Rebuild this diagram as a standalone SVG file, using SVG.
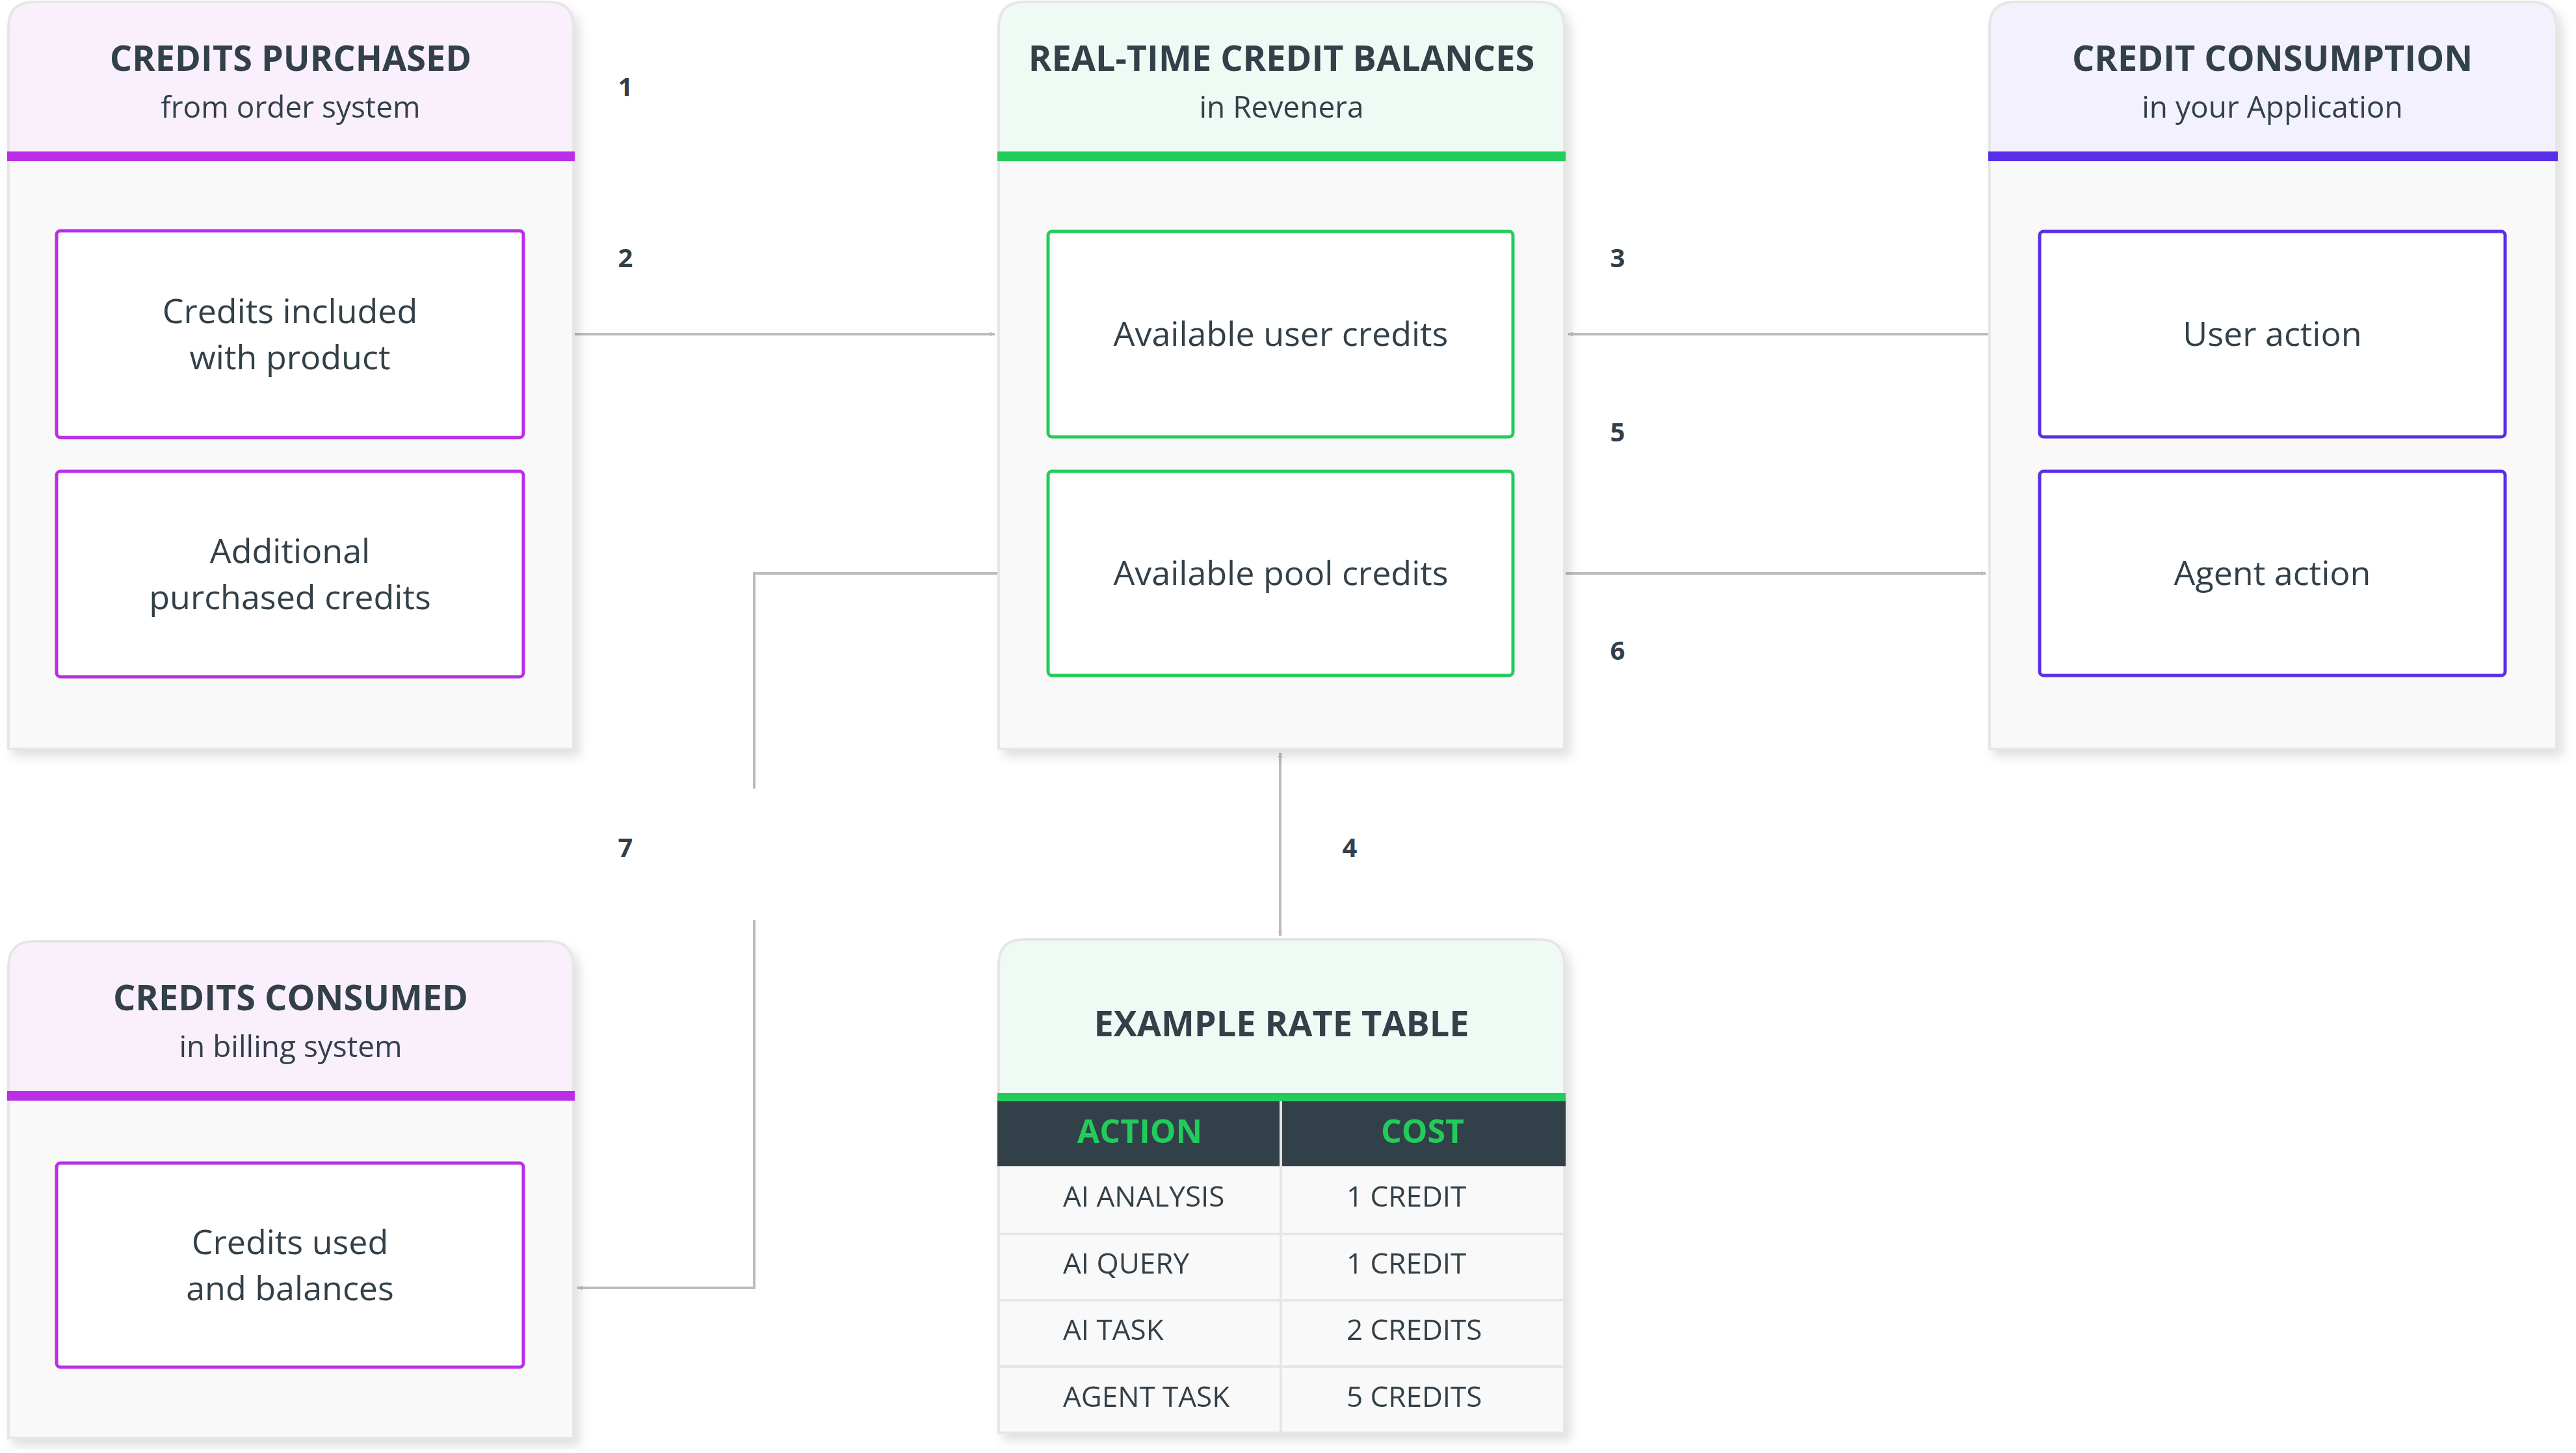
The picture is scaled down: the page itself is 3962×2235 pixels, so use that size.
<svg xmlns="http://www.w3.org/2000/svg" width="3962" height="2235" viewBox="0 0 3962 2235">
<defs>
<filter id="sh" x="-5%" y="-5%" width="115%" height="115%"><feDropShadow dx="8" dy="10" stdDeviation="8" flood-color="#000" flood-opacity="0.12"/></filter>
<marker id="ah" viewBox="0 0 10 10" refX="10" refY="5" markerWidth="7" markerHeight="7" markerUnits="userSpaceOnUse" orient="auto-start-reverse"><path d="M0,0 L10,5 L0,10 z" fill="#bcbcbc"/></marker>
</defs>
<style>
text{font-family:"Open Sans","Noto Sans",sans-serif;fill:#333f48;text-anchor:middle}
.t{font-size:54px;font-weight:700}
.s{font-size:46px}
.b{font-size:52px}
.n{font-size:40px;font-weight:700}
.r{font-size:44px}
.c{fill:none;stroke:#bcbcbc;stroke-width:4}
.body{fill:#f9f9f9;stroke:#e6e6e6;stroke-width:4}
.box{fill:#fff;stroke-width:5}
</style>
<g id="connectors">
<line class="c" x1="884" y1="514" x2="1530" y2="514" marker-end="url(#ah)" style="marker-end:url(#ah);stroke-width:4"/>
<line class="c" x1="3060" y1="514" x2="2412" y2="514" marker-end="url(#ah)"/>
<line class="c" x1="2408" y1="882" x2="3054" y2="882" marker-end="url(#ah)"/>
<polyline class="c" points="1536,882 1160,882 1160,1213"/>
<polyline class="c" points="1160,1415 1160,1981 888,1981" marker-end="url(#ah)"/>
<line class="c" x1="1969" y1="1158" x2="1969" y2="1440" marker-start="url(#ah)" marker-end="url(#ah)"/>
<text class="n" x="962" y="148">1</text>
<text class="n" x="962" y="411">2</text>
<text class="n" x="2488" y="411">3</text>
<text class="n" x="2488" y="679">5</text>
<text class="n" x="2488" y="1015">6</text>
<text class="n" x="962" y="1318">7</text>
<text class="n" x="2076" y="1318">4</text>
</g>
<g id="credits-purchased" filter="url(#sh)">
<path class="body" d="M13,240 H882 V1152 H13 Z"/>
<path d="M13,240 V42 Q13,3 52,3 H843 Q882,3 882,42 V240 Z" fill="#f9f0fc" stroke="#e6e6e6" stroke-width="4"/>
<rect x="11" y="233" width="873" height="15" fill="#b92ee6"/>
<text class="t" x="447" y="109">CREDITS PURCHASED</text>
<text class="s" x="447" y="181">from order system</text>
<rect class="box" x="87" y="355" width="718" height="318" rx="6" stroke="#b92ee6"/>
<text class="b" x="446" y="497">Credits included</text>
<text class="b" x="446" y="568">with product</text>
<rect class="box" x="87" y="725" width="718" height="316" rx="6" stroke="#b92ee6"/>
<text class="b" x="446" y="866">Additional</text>
<text class="b" x="446" y="937">purchased credits</text>
</g>
<g id="balances" filter="url(#sh)">
<path class="body" d="M1536,240 H2406 V1152 H1536 Z"/>
<path d="M1536,240 V42 Q1536,3 1575,3 H2367 Q2406,3 2406,42 V240 Z" fill="#f0faf4" stroke="#e6e6e6" stroke-width="4"/>
<rect x="1534" y="233" width="874" height="15" fill="#22cc5a"/>
<text class="t" x="1971" y="109">REAL-TIME CREDIT BALANCES</text>
<text class="s" x="1971" y="181">in Revenera</text>
<rect class="box" x="1612" y="356" width="715" height="316" rx="6" stroke="#22cc5a"/>
<text class="b" x="1970" y="532">Available user credits</text>
<rect class="box" x="1612" y="725" width="715" height="314" rx="6" stroke="#22cc5a"/>
<text class="b" x="1970" y="900">Available pool credits</text>
</g>
<g id="consumption" filter="url(#sh)">
<path class="body" d="M3060,240 H3932 V1152 H3060 Z"/>
<path d="M3060,240 V42 Q3060,3 3099,3 H3893 Q3932,3 3932,42 V240 Z" fill="#f3f1fd" stroke="#e6e6e6" stroke-width="4"/>
<rect x="3058" y="233" width="876" height="15" fill="#5a2ee6"/>
<text class="t" x="3495" y="109">CREDIT CONSUMPTION</text>
<text class="s" x="3495" y="181">in your Application</text>
<rect class="box" x="3137" y="356" width="716" height="316" rx="6" stroke="#5a2ee6"/>
<text class="b" x="3495" y="532">User action</text>
<rect class="box" x="3137" y="725" width="716" height="314" rx="6" stroke="#5a2ee6"/>
<text class="b" x="3495" y="900">Agent action</text>
</g>
<g id="credits-consumed" filter="url(#sh)">
<path class="body" d="M13,1685 H882 V2212 H13 Z"/>
<path d="M13,1685 V1487 Q13,1448 52,1448 H843 Q882,1448 882,1487 V1685 Z" fill="#f9f0fc" stroke="#e6e6e6" stroke-width="4"/>
<rect x="11" y="1678" width="873" height="15" fill="#b92ee6"/>
<text class="t" x="447" y="1554">CREDITS CONSUMED</text>
<text class="s" x="447" y="1626">in billing system</text>
<rect class="box" x="87" y="1789" width="718" height="314" rx="6" stroke="#b92ee6"/>
<text class="b" x="446" y="1929">Credits used</text>
<text class="b" x="446" y="2000">and balances</text>
</g>
<g id="rate-table" filter="url(#sh)">
<path class="body" d="M1536,1685 H2406 V2204 H1536 Z"/>
<path d="M1536,1685 V1484 Q1536,1445 1575,1445 H2367 Q2406,1445 2406,1484 V1685 Z" fill="#f0faf4" stroke="#e6e6e6" stroke-width="4"/>
<rect x="1534" y="1681" width="874" height="13" fill="#22cc5a"/>
<rect x="1534" y="1694" width="874" height="100" fill="#333f48"/>
<line x1="1970" y1="1694" x2="1970" y2="2204" stroke="#e6e6e6" stroke-width="4"/>
<line x1="1536" y1="1898" x2="2406" y2="1898" stroke="#e6e6e6" stroke-width="4"/>
<line x1="1536" y1="2000" x2="2406" y2="2000" stroke="#e6e6e6" stroke-width="4"/>
<line x1="1536" y1="2102" x2="2406" y2="2102" stroke="#e6e6e6" stroke-width="4"/>
<text class="t" x="1971" y="1594">EXAMPLE RATE TABLE</text>
<text class="t" x="1753" y="1758" style="fill:#22cc5a;font-size:50px">ACTION</text>
<text class="t" x="2188" y="1758" style="fill:#22cc5a;font-size:50px">COST</text>
<g class="r" style="font-size:44px">
<text x="1635" y="1856" style="text-anchor:start">AI ANALYSIS</text>
<text x="1635" y="1959" style="text-anchor:start">AI QUERY</text>
<text x="1635" y="2061" style="text-anchor:start">AI TASK</text>
<text x="1635" y="2164" style="text-anchor:start">AGENT TASK</text>
<text x="2071" y="1856" style="text-anchor:start">1 CREDIT</text>
<text x="2071" y="1959" style="text-anchor:start">1 CREDIT</text>
<text x="2071" y="2061" style="text-anchor:start">2 CREDITS</text>
<text x="2071" y="2164" style="text-anchor:start">5 CREDITS</text>
</g>
</g>
</svg>
